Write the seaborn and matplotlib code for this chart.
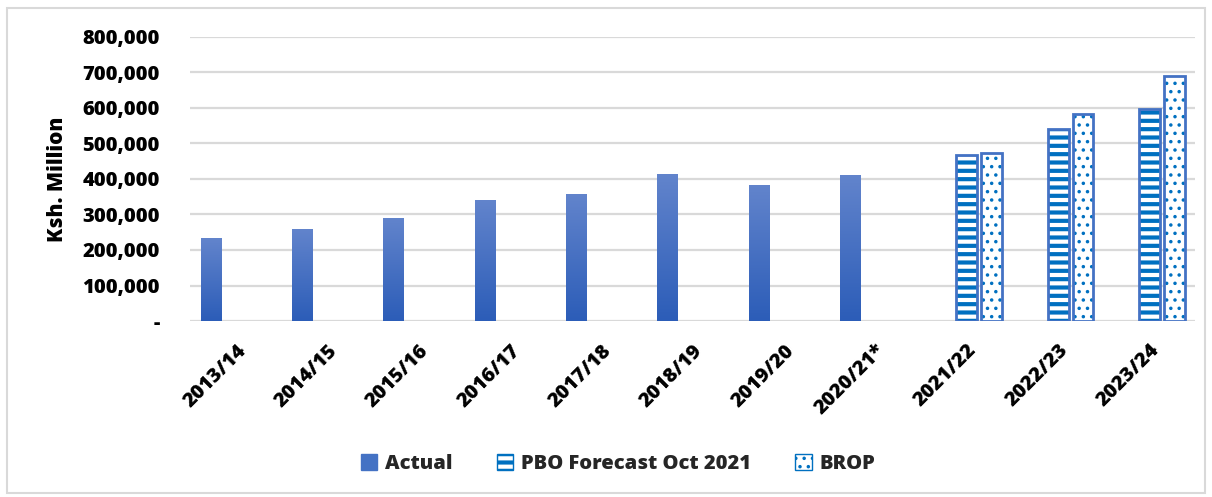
import numpy as np
import pandas as pd
import matplotlib
matplotlib.use("Agg")
import matplotlib.pyplot as plt
from matplotlib.patches import Patch, Rectangle
from matplotlib.ticker import FuncFormatter
import seaborn as sns

# data (Ksh. Million)
years = ['2013/14', '2014/15', '2015/16', '2016/17', '2017/18', '2018/19',
         '2019/20', '2020/21*', '2021/22', '2022/23', '2023/24']
actual_years = years[:8]
actual = [233000, 259000, 290000, 341000, 358000, 414000, 383000, 411000]
forecast_years = years[8:]
pbo = [468000, 540000, 596000]
brop = [473000, 583000, 691000]
series = ['Actual', 'PBO Forecast Oct 2021', 'BROP']

df = pd.concat([
    pd.DataFrame({'Year': actual_years, 'Series': series[0], 'Value': actual}),
    pd.DataFrame({'Year': forecast_years, 'Series': series[1], 'Value': pbo}),
    pd.DataFrame({'Year': forecast_years, 'Series': series[2], 'Value': brop}),
])

sns.set_style('white')
plt.rcParams['font.family'] = ['Open Sans', 'DejaVu Sans']
plt.rcParams['font.weight'] = 'extra bold'
plt.rcParams['hatch.linewidth'] = 1.3
fw = 'extra bold'
hatch_lw = {'--': 3.0, '..': 1.3}

fig = plt.figure(figsize=(12.12, 4.97), dpi=100)
ax = fig.add_axes([0.157, 0.354, 0.829, 0.572])

edge = '#4472C4'
stripe = '#0070C0'
sns.barplot(data=df, x='Year', y='Value', hue='Series', order=years, hue_order=series,
            palette=['#4472C4', 'white', 'white'], width=0.82, gap=0.16,
            ax=ax, legend=False, saturation=1)

# Actual bars: vertical gradient like the original
cmap = matplotlib.colors.LinearSegmentedColormap.from_list('g', ['#2C5DB8', '#6284CC'])
for bar in ax.containers[0]:
    bar.set_edgecolor('none')
    x0, y0 = bar.get_x(), bar.get_y()
    w, h = bar.get_width(), bar.get_height()
    grad = np.linspace(0, 1, 100).reshape(-1, 1)
    im = ax.imshow(grad, extent=[x0, x0 + w, y0, y0 + h], origin='lower', cmap=cmap,
                   aspect='auto', zorder=bar.get_zorder())
    im.set_clip_path(bar)

# forecast bars: striped / dotted with a lighter outline
for hatch, cont in zip(['--', '..'], ax.containers[1:]):
    for bar in cont:
        bar.set_facecolor('white')
        bar.set_edgecolor(stripe)
        bar.set_hatch(hatch)
        bar.set_linewidth(0)
        if hasattr(bar, 'set_hatch_linewidth'):
            bar.set_hatch_linewidth(hatch_lw[hatch])
        ax.add_patch(Rectangle(bar.get_xy(), bar.get_width(), bar.get_height(),
                               fill=False, edgecolor=edge, linewidth=2,
                               zorder=bar.get_zorder() + 0.1))

ax.set_xlim(-0.5, len(years) - 0.5)
ax.set_ylim(0, 800000)
ax.set_yticks(np.arange(0, 800001, 100000))
ax.yaxis.set_major_formatter(FuncFormatter(lambda v, p: '-' if v == 0 else f'{v:,.0f}'))
ax.grid(axis='y', color='#D9D9D9', linewidth=1.6)
ax.set_axisbelow(True)
for s in ax.spines.values():
    s.set_visible(False)
ax.tick_params(axis='both', length=0, labelsize=14.5, labelcolor='black')
ax.tick_params(axis='y', pad=22)
plt.setp(ax.get_yticklabels(), fontweight=fw)
plt.setp(ax.get_xticklabels(), rotation=45, ha='right', rotation_mode='anchor',
         fontweight=fw)
ax.tick_params(axis='x', pad=14)
ax.set_xlabel('')
ax.set_ylabel('Ksh. Million', fontsize=15, fontweight=fw, labelpad=10, color='black')

handles = [Patch(facecolor='#4472C4', edgecolor='#4472C4', label=series[0]),
           Patch(facecolor='white', edgecolor=stripe, hatch='--', label=series[1]),
           Patch(facecolor='white', edgecolor=stripe, hatch='..', label=series[2])]
leg = fig.legend(handles=handles, loc='center', bbox_to_anchor=(0.51, 0.066), ncol=3,
                 frameon=False, prop={'size': 14.5, 'weight': fw},
                 handlelength=0.8, handleheight=0.8, handletextpad=0.4, columnspacing=2.2)
for p, h in zip(leg.get_patches(), [None, '--', '..']):
    if h and hasattr(p, 'set_hatch_linewidth'):
        p.set_hatch_linewidth(hatch_lw[h])

fig.patches.append(Rectangle((0.006, 0.008), 0.988, 0.976, transform=fig.transFigure,
                             fill=False, edgecolor='#D9D9D9', linewidth=1.5))

fig.savefig('out.png', dpi=100)
